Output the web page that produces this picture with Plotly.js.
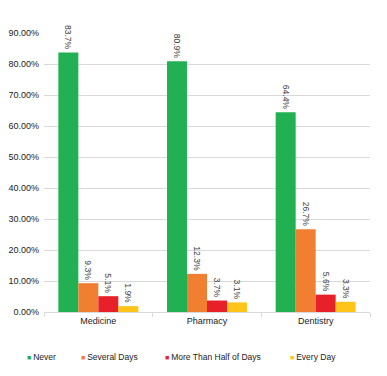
<!DOCTYPE html>
<html>
<head>
<meta charset="utf-8">
<script src="https://cdn.plot.ly/plotly-3.0.1.min.js"></script>
<style>html,body{margin:0;padding:0;background:#fff;}#chart{width:387px;height:376px;}</style>
</head>
<body>
<div id="chart"></div>
<script>
const categories = ["Medicine", "Pharmacy", "Dentistry"];
const seriesNames = ["Never", "Several Days", "More Than Half of Days", "Every Day"];
const never = [0.837, 0.809, 0.644];
const severalDays = [0.093, 0.123, 0.267];
const moreThanHalf = [0.051, 0.037, 0.056];
const everyDay = [0.019, 0.031, 0.033];
const colors = ["#21B052", "#F07F32", "#E8202A", "#FFC41A"];

const values = [never, severalDays, moreThanHalf, everyDay];
const font = "Liberation Sans, Arial, sans-serif";

const W = 387, H = 376;
const M = {l: 44, r: 17, t: 33, b: 64};
const plotW = W - M.l - M.r;

const traces = values.map((v, i) => ({
  type: "bar",
  x: categories,
  y: v,
  name: seriesNames[i],
  marker: {color: colors[i], line: {width: 0}},
  text: v.map(d => (d * 100).toFixed(1) + "%"),
  textposition: "outside",
  textangle: 90,
  cliponaxis: false,
  constraintext: "none",
  textfont: {family: font, size: 8.5, color: "#404040"},
  hoverinfo: "skip"
}));

// legend laid out as a single row below the chart
const legendLeft = [25, 79, 163, 288];
const annotations = seriesNames.map((n, i) => ({
  xref: "paper",
  yref: "paper",
  x: (legendLeft[i] - M.l) / plotW,
  y: -0.16,
  xanchor: "left",
  yanchor: "middle",
  showarrow: false,
  align: "left",
  text: "<span style='color:" + colors[i] + ";font-size:7px'>■ </span>" + n,
  font: {family: font, size: 8.5, color: "#222"}
}));

const layout = {
  width: W,
  height: H,
  margin: M,
  paper_bgcolor: "#fff",
  plot_bgcolor: "#fff",
  barmode: "group",
  bargap: 0.264,
  bargroupgap: 0,
  font: {family: font, size: 9, color: "#333"},
  xaxis: {
    type: "category",
    showgrid: false,
    showline: true,
    linecolor: "#d9d9d9",
    linewidth: 1,
    ticks: "outside",
    tickson: "boundaries",
    ticklen: 4,
    tickcolor: "#d9d9d9",
    tickfont: {family: font, size: 9, color: "#222"},
    fixedrange: true
  },
  yaxis: {
    range: [0, 0.9],
    dtick: 0.1,
    tickformat: ".2%",
    showgrid: true,
    gridcolor: "#d9d9d9",
    gridwidth: 1,
    zeroline: false,
    showline: false,
    ticks: "",
    ticklabelstandoff: 4,
    tickfont: {family: font, size: 9, color: "#222"},
    fixedrange: true
  },
  annotations: annotations,
  showlegend: false
};

Plotly.newPlot("chart", traces, layout, {displayModeBar: false, staticPlot: true});
</script>
</body>
</html>
